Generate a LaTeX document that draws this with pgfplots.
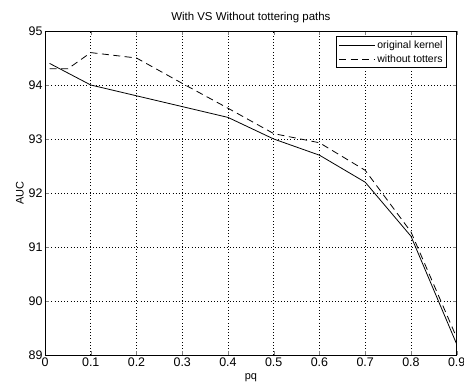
\documentclass[border=0pt]{standalone}
\usepackage{fontspec}
\setmainfont{Liberation Sans}
\usepackage{pgfplots}
\pgfplotsset{compat=1.18}
\begin{document}
\begin{tikzpicture}
\begin{axis}[
  scale only axis,
  width=411.7bp, height=324bp,
  xmin=0, xmax=0.9, ymin=89, ymax=95,
  xtick={0,0.1,...,0.9},
  ytick={89,90,...,95},
  xticklabels={0,0.1,0.2,0.3,0.4,0.5,0.6,0.7,0.8,0.9},
  /pgf/number format/assume math mode=true,
  tick label style={font=\fontsize{12.5}{14}\selectfont},
  xticklabel style={yshift=1bp},
  yticklabel style={xshift=1bp},
  tick align=inside,
  tick pos=both,
  major tick length=4bp,
  grid=major,
  grid style={black, dash pattern=on 0.6pt off 2.6pt, line width=0.6pt},
  axis line style={black, line width=0.8pt},
  title={With VS Without tottering paths},
  title style={font=\fontsize{11.5}{13}\selectfont, yshift=-1bp},
  xlabel={pq},
  ylabel={AUC},
  label style={font=\fontsize{11}{13}\selectfont},
  xlabel style={yshift=0bp},
  ylabel style={yshift=-2bp},
  legend style={at={(0.976,0.984)}, anchor=north east, draw=black, line width=0.6pt,
    font=\fontsize{10.5}{12}\selectfont, inner sep=2pt, row sep=1pt,
    legend cell align=left},
  legend image code/.code={\draw[#1] (0bp,0bp) -- (36bp,0bp);},
]
\addplot[black, solid, line width=0.8pt] coordinates {
 (0.01,94.4) (0.1,94.0) (0.2,93.8) (0.3,93.6) (0.4,93.4) (0.5,93.0) (0.6,92.7) (0.7,92.2) (0.8,91.2) (0.9,89.2)};
\addlegendentry{original kernel}
\addplot[black, dash pattern=on 7bp off 4.5bp, line width=0.8pt] coordinates {
 (0.01,94.3) (0.05,94.3) (0.1,94.6) (0.2,94.5) (0.3,94.03) (0.4,93.57) (0.5,93.1) (0.6,92.93) (0.7,92.42) (0.8,91.28) (0.9,89.32)};
\addlegendentry{without totters}
\end{axis}
\pgfresetboundingbox
\useasboundingbox ([xshift=-45bp,yshift=-28bp]current axis.south west) rectangle ([xshift=7.3bp,yshift=31bp]current axis.north east);
\end{tikzpicture}
\end{document}
